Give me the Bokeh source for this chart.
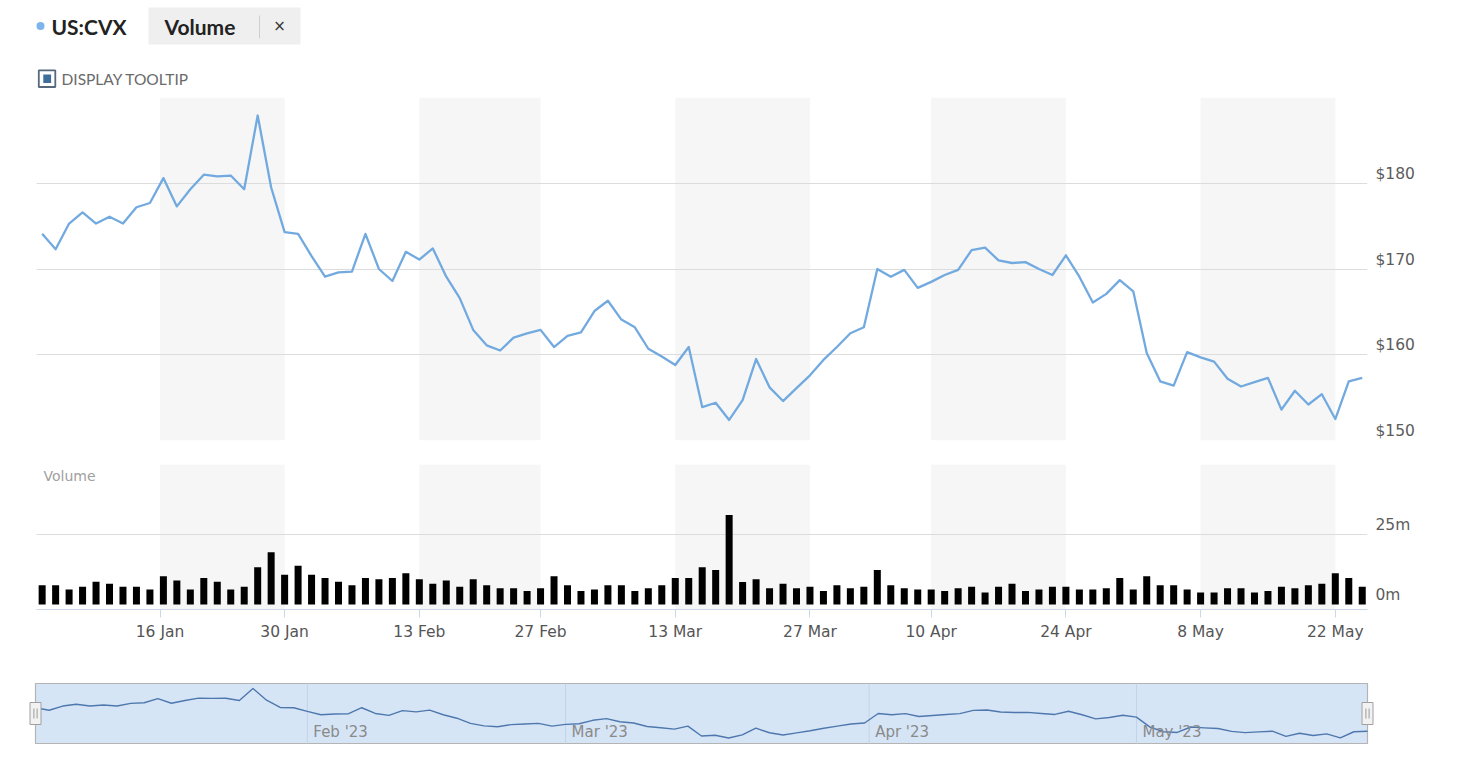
import numpy as np
import pandas as pd
from bokeh.plotting import figure
from bokeh.layouts import column
from bokeh.models import (Range1d, FixedTicker, LinearAxis, PrintfTickFormatter,
                          CustomJSTickFormatter, BoxAnnotation, Grid)
from bokeh.embed import file_html
from bokeh.resources import INLINE
from bokeh.core.properties import value

# ---------------- data ----------------
start_date = "2023-01-03"
end_date = "2023-05-24"
holidays = ["2023-01-16", "2023-02-20", "2023-04-07"]

price = [174.1, 172.3, 175.3, 176.6, 175.3, 176.1, 175.3, 177.2, 177.7, 180.6,
         177.3, 179.3, 181.0, 180.8, 180.9, 179.3, 187.9, 179.5, 174.3, 174.1,
         171.5, 169.1, 169.6, 169.7, 174.1, 170.0, 168.6, 172.0, 171.1, 172.4,
         169.1, 166.6, 162.9, 161.1, 160.5, 162.0, 162.5, 162.9, 160.9, 162.2,
         162.6, 165.1, 166.3, 164.1, 163.2, 160.7, 159.8, 158.8, 160.9, 153.9,
         154.4, 152.4, 154.7, 159.5, 156.2, 154.6, 156.1, 157.6, 159.4, 160.9,
         162.5, 163.2, 170.0, 169.1, 169.9, 167.8, 168.5, 169.3, 169.9, 172.2,
         172.5, 171.0, 170.7, 170.8, 170.0, 169.3, 171.6, 169.1, 166.1, 167.1,
         168.7, 167.4, 160.2, 156.9, 156.4, 160.3, 159.7, 159.2, 157.2, 156.3,
         156.8, 157.3, 153.6, 155.8, 154.2, 155.4, 152.5, 156.9, 157.3]

volume_m = [6.9, 6.9, 5.4, 6.3, 8.1, 7.4, 6.3, 6.3, 5.4, 10.1,
            8.6, 5.4, 9.5, 8.1, 5.4, 6.3, 13.3, 18.7, 10.6, 13.8,
            10.6, 9.5, 8.1, 6.9, 9.5, 9.0, 9.5, 11.2, 9.0, 7.4,
            8.6, 6.3, 9.0, 6.9, 5.8, 5.8, 4.8, 5.8, 10.1, 6.9,
            4.8, 5.4, 6.9, 6.9, 4.8, 5.8, 6.9, 9.5, 9.5, 13.3,
            12.3, 32.0, 8.0, 9.0, 5.8, 7.4, 5.8, 6.3, 4.8, 6.9,
            5.8, 6.3, 12.3, 6.9, 5.8, 5.4, 5.4, 4.8, 5.8, 6.3,
            4.3, 6.3, 7.4, 4.8, 5.4, 6.3, 6.3, 5.4, 5.4, 5.8,
            9.5, 5.4, 10.1, 6.9, 6.9, 5.4, 4.3, 4.3, 5.8, 5.8,
            4.3, 4.8, 6.3, 5.8, 6.9, 7.4, 11.2, 9.5, 6.3]

tick_dates = ["2023-01-16", "2023-01-30", "2023-02-13", "2023-02-27", "2023-03-13",
              "2023-03-27", "2023-04-10", "2023-04-24", "2023-05-08", "2023-05-22"]
tick_labels = ["16 Jan", "30 Jan", "13 Feb", "27 Feb", "13 Mar",
               "27 Mar", "10 Apr", "24 Apr", "8 May", "22 May"]

nav_month_dates = ["2023-02-01", "2023-03-01", "2023-04-01", "2023-05-01"]
nav_month_labels = ["Feb '23", "Mar '23", "Apr '23", "May '23"]

price_grid_ticks = [150, 160, 170, 180, 190]
price_label_ticks = [150, 160, 170, 180]
volume_grid_ticks_m = [25, 50]
volume_label_ticks_m = [0, 25]

# ---------------- helpers ----------------
n = len(price)
idx = np.arange(n)
trading = pd.bdate_range(start_date, end_date)
trading = trading[~trading.isin(pd.to_datetime(holidays))]
assert len(trading) == n
t_days = np.asarray((trading - trading[0]).days, dtype=float)


def ordinal_pos(dates):
    d = np.asarray((pd.to_datetime(dates) - trading[0]).days, dtype=float)
    return np.interp(d, t_days, idx)


tick_pos = [float(v) for v in ordinal_pos(tick_dates)]
month_pos = [float(v) for v in ordinal_pos(nav_month_dates)]

W = 1430
MAIN_L = 36            # frame left edge (px)
MAIN_R = W - 1367      # space right of the frame
AXIS_FONT = "DejaVu Sans"
LABEL_FONT = value("DejaVu Sans")
GRID_COLOR = "#dcdcdc"
BAND_COLOR = "#f6f6f6"
LINE_COLOR = "#72aae0"

x_range = Range1d(-0.42, n - 1 + 0.39)


def base_fig(**kw):
    p = figure(output_backend="svg", toolbar_location=None,
               x_axis_location=None, y_axis_location=None,
               outline_line_color=None, background_fill_color="white",
               border_fill_color="white", **kw)
    p.center = [r for r in p.center if not isinstance(r, Grid)]
    return p


def style_label_axis(ax):
    ax.axis_line_color = None
    ax.major_tick_line_color = None
    ax.minor_tick_line_color = None
    ax.major_tick_in = 0
    ax.major_tick_out = 0
    ax.major_label_standoff = 8
    ax.major_label_text_font = AXIS_FONT
    ax.major_label_text_font_size = "15.5px"
    ax.major_label_text_color = "#5c5c5c"


# ---------------- header ----------------
HDR_H = 97
hf = base_fig(width=W, height=HDR_H, x_range=Range1d(0, W), y_range=Range1d(HDR_H, 0),
              min_border_left=0, min_border_right=0, min_border_top=0, min_border_bottom=0)
hf.scatter([40], [25.6], size=8, color="#7cb5ec", line_color=None)
hf.text([51], [26.3], text=["US:CVX"], text_font=value("Lato"), text_font_style="bold",
        text_font_size="21px", text_color="#222222", text_baseline="middle", text_align="left")
hf.quad(left=[148], right=[300], top=[7], bottom=[44], fill_color="#efefef", line_color=None)
hf.text([164], [26.0], text=["Volume"], text_font=value("Lato"), text_font_style="bold",
        text_font_size="21px", text_color="#222222", text_baseline="middle", text_align="left")
hf.segment(x0=[259], y0=[15], x1=[259], y1=[38], line_color="#cfcfcf", line_width=1)
hf.text([279], [25.5], text=["×"], text_font=value("DejaVu Sans"), text_font_size="15px",
        text_color="#333333", text_baseline="middle", text_align="center")
hf.quad(left=[38.3], right=[54.8], top=[69.8], bottom=[86.5], fill_color="white",
        line_color="#55687c", line_width=1.8)
hf.quad(left=[42.8], right=[50.6], top=[74.0], bottom=[82.6], fill_color="#3e6e9c", line_color=None)
hf.text([61], [78.5], text=["DISPLAY TOOLTIP"], text_font=value("Lato"),
        text_font_size="15.5px", text_color="#6a6a6a", text_baseline="middle", text_align="left")

# ---------------- price pane ----------------
P_FRAME_H = 343
pf = base_fig(width=W, height=P_FRAME_H + 24, x_range=x_range, y_range=Range1d(150, 190),
              min_border_left=MAIN_L, min_border_right=MAIN_R, min_border_top=0, min_border_bottom=24)
for a, b in zip(tick_pos[0::2], tick_pos[1::2]):
    pf.add_layout(BoxAnnotation(left=a, right=b, fill_color=BAND_COLOR, fill_alpha=1,
                                line_color=None, level="image"))
pf.add_layout(Grid(dimension=1, ticker=FixedTicker(ticks=price_grid_ticks),
                   grid_line_color=GRID_COLOR, grid_line_width=1))
pf.line(idx, price, line_color=LINE_COLOR, line_width=2.3, line_join="round")

d_price = 9.5 * 40 / P_FRAME_H
pf.extra_y_ranges = {"lbl": Range1d(150 - d_price, 190 - d_price)}
pax = LinearAxis(y_range_name="lbl", ticker=FixedTicker(ticks=price_label_ticks),
                 formatter=PrintfTickFormatter(format="$%d"))
style_label_axis(pax)
pf.add_layout(pax, "right")

# ---------------- volume pane ----------------
V_FRAME_H = 145
V_ZERO_PX = 5
k_vol = (V_FRAME_H - V_ZERO_PX) / 50.0  # px per million
vlo_m = -V_ZERO_PX / k_vol
vf = base_fig(width=W, height=V_FRAME_H + 69, x_range=x_range,
              y_range=Range1d(vlo_m * 1e6, 50e6),
              min_border_left=MAIN_L, min_border_right=MAIN_R, min_border_top=0, min_border_bottom=69)
for a, b in zip(tick_pos[0::2], tick_pos[1::2]):
    vf.add_layout(BoxAnnotation(left=a, right=b, fill_color=BAND_COLOR, fill_alpha=1,
                                line_color=None, level="image"))
vf.add_layout(Grid(dimension=1, ticker=FixedTicker(ticks=[t * 1e6 for t in volume_grid_ticks_m]),
                   grid_line_color=GRID_COLOR, grid_line_width=1))
vol = [v * 1e6 for v in volume_m]
vf.vbar(x=idx, top=vol, bottom=0, width=0.52, fill_color="black", line_color=None)

vf.text([x_range.start + 7 / 13.47], [50e6 - 3 / k_vol * 1e6], text=["Volume"],
        text_font=LABEL_FONT, text_font_size="14px", text_color="#a0a0a0",
        text_baseline="top", text_align="left")

dv = 9.5 / k_vol
vf.extra_y_ranges = {"lbl": Range1d(vlo_m - dv, 50 - dv)}
vax = LinearAxis(y_range_name="lbl", ticker=FixedTicker(ticks=volume_label_ticks_m),
                 formatter=PrintfTickFormatter(format="%dm"))
style_label_axis(vax)
vf.add_layout(vax, "right")

xax = LinearAxis(ticker=FixedTicker(ticks=tick_pos),
                 formatter=CustomJSTickFormatter(args=dict(labels=tick_labels),
                                                 code="return labels[index];"))
xax.axis_line_color = "#ccd6eb"
xax.major_tick_line_color = "#ccd6eb"
xax.minor_tick_line_color = None
xax.major_tick_in = 0
xax.major_tick_out = 8
xax.major_label_standoff = 5
xax.major_label_text_font = AXIS_FONT
xax.major_label_text_font_size = "15.5px"
xax.major_label_text_color = "#555555"
vf.add_layout(xax, "below")

# ---------------- navigator ----------------
rng = max(price) - min(price)
nav_lo = min(price) - 0.11 * rng
nav_hi = max(price) + 0.10 * rng
NAV_BOX_W = 1332.0
NAV_BOX_H = 60.0
kx = NAV_BOX_W / (n - 1)
ky = NAV_BOX_H / (nav_hi - nav_lo)
nf = base_fig(width=W, height=80,
              x_range=Range1d(-15 / kx, n - 1 + 15 / kx),
              y_range=Range1d(nav_lo - 5 / ky, nav_hi + 5 / ky),
              min_border_left=20, min_border_right=W - 1382, min_border_top=0, min_border_bottom=10)
nf.quad(left=[0], right=[n - 1], bottom=[nav_lo], top=[nav_hi],
        fill_color="#d6e5f6", line_color="#b4b4b4", line_width=1.2)
nf.segment(x0=month_pos, y0=[nav_lo] * len(month_pos), x1=month_pos, y1=[nav_hi] * len(month_pos),
           line_color="#c3d3e7", line_width=1)
nf.line(idx, price, line_color="#4e78ad", line_width=1.4, line_join="round")
nf.text([m + 6 / kx for m in month_pos], [nav_lo + 12 / ky] * len(month_pos), text=nav_month_labels,
        text_font=LABEL_FONT, text_font_size="15px", text_color="#8a8a8a",
        text_baseline="middle", text_align="left")
yc = nav_hi - 30 / ky
nf.rect(x=[0, n - 1], y=[yc, yc], width=11, height=22, width_units="screen",
        height_units="screen", fill_color="#f2f2f2", line_color="#a0a0a0", line_width=1)
hx0 = [0 - 1.6 / kx, 0 + 1.6 / kx, n - 1 - 1.6 / kx, n - 1 + 1.6 / kx]
nf.segment(x0=hx0, y0=[yc - 5 / ky] * 4, x1=hx0, y1=[yc + 5 / ky] * 4,
           line_color="#9a9a9a", line_width=1)

# separate roots so that the header and navigator frames are not aligned to the panes
open("out.html", "w").write(file_html([hf, column(pf, vf, spacing=0), nf], INLINE))
